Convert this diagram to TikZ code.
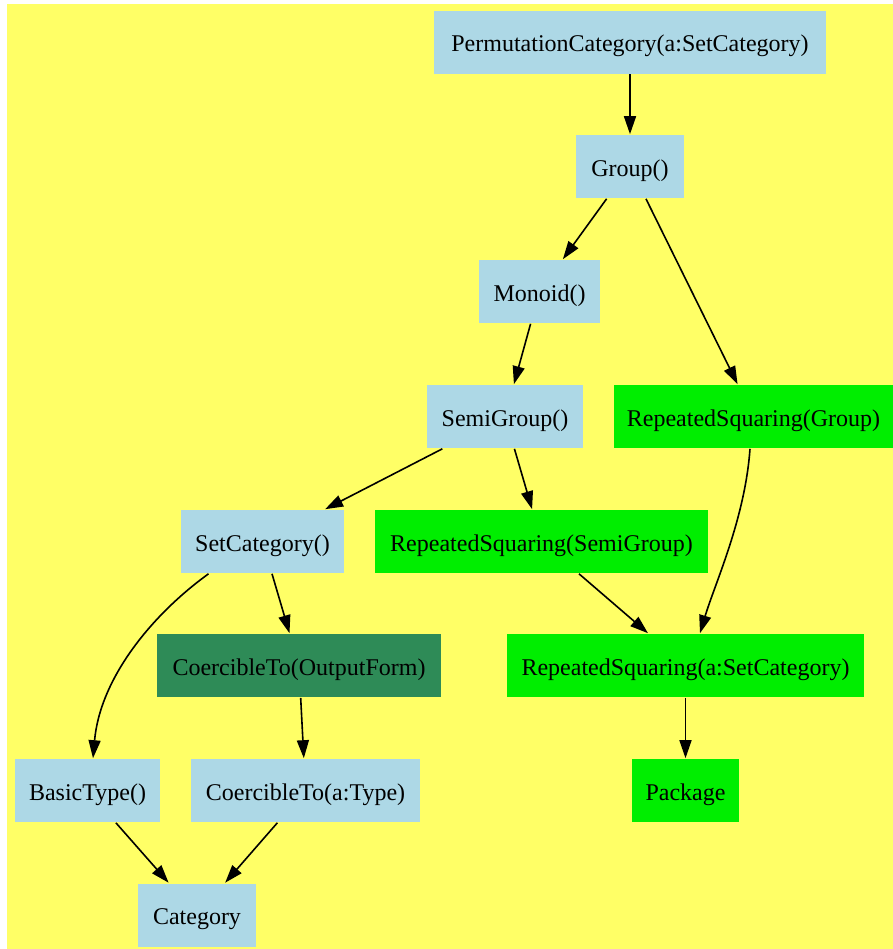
\documentclass[tikz,border=0pt]{standalone}
\usepackage{fontspec}
\setmainfont{Liberation Serif}
\usetikzlibrary{arrows.meta}

\definecolor{bgyellow}{HTML}{FFFF66}
\definecolor{catblue}{HTML}{ADD8E6}
\definecolor{pkggreen}{HTML}{00EE00}
\definecolor{domgreen}{HTML}{2E8B57}

\begin{document}
\begin{tikzpicture}[x=0.5pt, y=-0.5pt, font=\fontsize{12}{14}\selectfont,
    >={Triangle[length=9pt, width=6pt]}, line width=0.8pt,
    box/.style={minimum height=31.5pt, inner sep=0pt, text height=9.5pt, text depth=0pt},
    cat/.style={box, fill=catblue},
    pkg/.style={box, fill=pkggreen},
    dom/.style={box, fill=domgreen}]
    % ---------------- canvas (pixel units, y downwards)
    \useasboundingbox (0,0) rectangle (893,949);
    \fill[bgyellow] (7,4) rectangle (893,949);
    % ---------------- categories
    \node[cat, minimum width=196pt] (permcat) at (630,42) {PermutationCategory(a:SetCategory)};
    \node[cat, minimum width=54pt] (group) at (630,166.5) {Group()};
    \node[cat, minimum width=60.5pt] (monoid) at (539.5,291.5) {Monoid()};
    \node[cat, minimum width=78pt] (semigroup) at (505,416.5) {SemiGroup()};
    \node[cat, minimum width=81.5pt] (setcat) at (262.5,541.5) {SetCategory()};
    \node[cat, minimum width=72.5pt] (basictype) at (87.5,790.5) {BasicType()};
    \node[cat, minimum width=114.5pt] (coerctype) at (305.5,790.5) {CoercibleTo(a:Type)};
    \node[cat, minimum width=59pt] (category) at (197,915) {Category};
    % domain
    \node[dom, minimum width=142pt] (coercof) at (299,665.5) {CoercibleTo(OutputForm)};
    % ---------------- packages
    \node[pkg, minimum width=139.5pt] (rsgroup) at (753.5,416.5) {RepeatedSquaring(Group)};
    \node[pkg, minimum width=166.5pt] (rssemi) at (541.5,541.5) {RepeatedSquaring(SemiGroup)};
    \node[pkg, minimum width=178.5pt] (rsset) at (685.5,665.5) {RepeatedSquaring(a:SetCategory)};
    \node[pkg, minimum width=53.5pt] (package) at (685.5,790.5) {Package};
    % ---------------- edges
    \draw[->] (permcat) -- (group);
    \draw[->] (group) -- (monoid);
    \draw[->] (group) -- (rsgroup);
    \draw[->] (monoid) -- (semigroup);
    \draw[->] (semigroup) -- (setcat);
    \draw[->] (semigroup) -- (rssemi);
    \draw[->] ([xshift=-1.75pt]rsgroup.south) .. controls +(-5,70) and +(15,-50) .. ([xshift=7.25pt]rsset.north);
    \draw[->] (rssemi) -- (rsset);
    \draw[->] (rsset) -- (package);
    \draw[->] ([xshift=-27pt]setcat.south) .. controls +(-58,42) and +(7,-79) .. ([xshift=2.75pt]basictype.north);
    \draw[->] (setcat) -- (coercof);
    \draw[->] (coercof) -- (coerctype);
    \draw[->] (basictype) -- (category);
    \draw[->] (coerctype) -- (category);
\end{tikzpicture}
\end{document}
